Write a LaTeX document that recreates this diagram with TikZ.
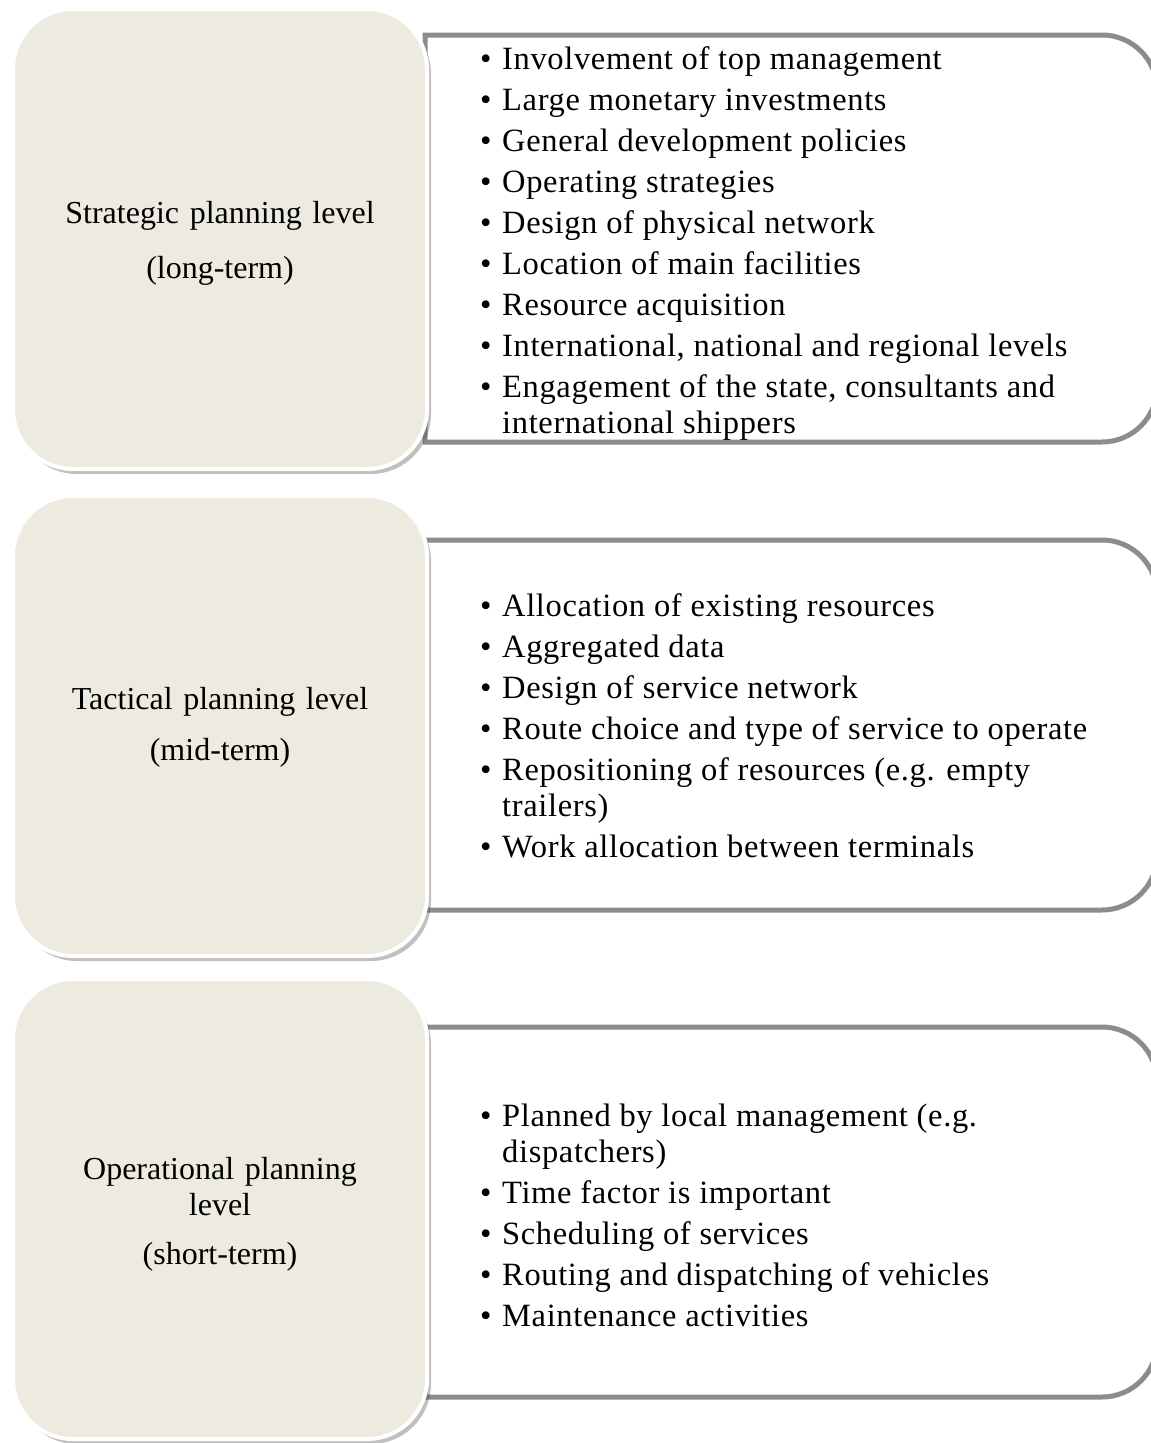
\documentclass[tikz,border=0pt]{standalone}
\usepackage{fontspec}
\setmainfont{Liberation Serif}
\newfontfamily\listfont[LetterSpace=2]{Liberation Serif}
\usetikzlibrary{shadows}
\definecolor{levelfill}{RGB}{237,235,224}
\definecolor{framegray}{RGB}{140,140,140}
\newcommand\lbul{\makebox[22pt][l]{\textbullet}}
\newcommand\lcont{\hspace*{22pt}}
\begin{document}
\begin{tikzpicture}[x=1pt,y=-1pt,
  levelbox/.style={draw=white, line width=4pt, fill=levelfill,
    rounded corners=60pt, minimum width=414pt, minimum height=460pt,
    inner sep=0pt,
    drop shadow={shadow xshift=4pt, shadow yshift=-5pt, opacity=0.35, fill=black!70}},
  levellabel/.style={inner sep=0pt, align=center, text width=330pt,
    font=\fontsize{32}{36}\selectfont},
  itemframe/.style={draw=framegray, line width=5pt, fill=white},
  itemlist/.style={anchor=north west, inner sep=0pt, align=left,
    font=\listfont\fontsize{32.5}{36}\selectfont}
]
\useasboundingbox[fill=white] (0,0) rectangle (1151,1443);

% frames holding the item lists (square on the left, rounded on the right)
\draw[itemframe] (425,35) -- (1102,35) arc[start angle=-90, end angle=0, radius=55]
  -- (1157,387) arc[start angle=0, end angle=90, radius=55] -- (425,442) -- cycle;
\draw[itemframe] (425,540) -- (1102,540) arc[start angle=-90, end angle=0, radius=55]
  -- (1157,855) arc[start angle=0, end angle=90, radius=55] -- (425,910) -- cycle;
\draw[itemframe] (425,1027) -- (1102,1027) arc[start angle=-90, end angle=0, radius=55]
  -- (1157,1342) arc[start angle=0, end angle=90, radius=55] -- (425,1397) -- cycle;

% planning levels
\node[levelbox] (strategic) at (220,239) {};
\node[levelbox] (tactical) at (220,726) {};
\node[levelbox] (operational) at (220,1209) {};

\node[levellabel] (strategiclabel) at ([yshift=-4pt]strategic.center)
  {Strategic planning level\\[19pt](long-term)};
\node[levellabel] (tacticallabel) at ([yshift=-1pt]tactical.center)
  {Tactical planning level\\[15pt](mid-term)};
\node[levellabel] (operationallabel) at ([yshift=-5pt]operational.center)
  {Operational planning\\ level\\[13pt](short-term)};

% item lists
\node[itemlist] (strategicitems) at (480,46) {%
\lbul Involvement of top management\\[5pt]
\lbul Large monetary investments\\[5pt]
\lbul General development policies\\[5pt]
\lbul Operating strategies\\[5pt]
\lbul Design of physical network\\[5pt]
\lbul Location of main facilities\\[5pt]
\lbul Resource acquisition\\[5pt]
\lbul International, national and regional levels\\[5pt]
\lbul Engagement of the state, consultants and\\
\lcont international shippers};

\node[itemlist] (tacticalitems) at (480,593) {%
\lbul Allocation of existing resources\\[5pt]
\lbul Aggregated data\\[5pt]
\lbul Design of service network\\[5pt]
\lbul Route choice and type of service to operate\\[5pt]
\lbul Repositioning of resources (e.g. empty\\
\lcont trailers)\\[5pt]
\lbul Work allocation between terminals};

\node[itemlist] (operationalitems) at (480,1104) {%
\lbul Planned by local management (e.g.\\
\lcont dispatchers)\\[5pt]
\lbul Time factor is important\\[5pt]
\lbul Scheduling of services\\[5pt]
\lbul Routing and dispatching of vehicles\\[5pt]
\lbul Maintenance activities};
\end{tikzpicture}
\end{document}
